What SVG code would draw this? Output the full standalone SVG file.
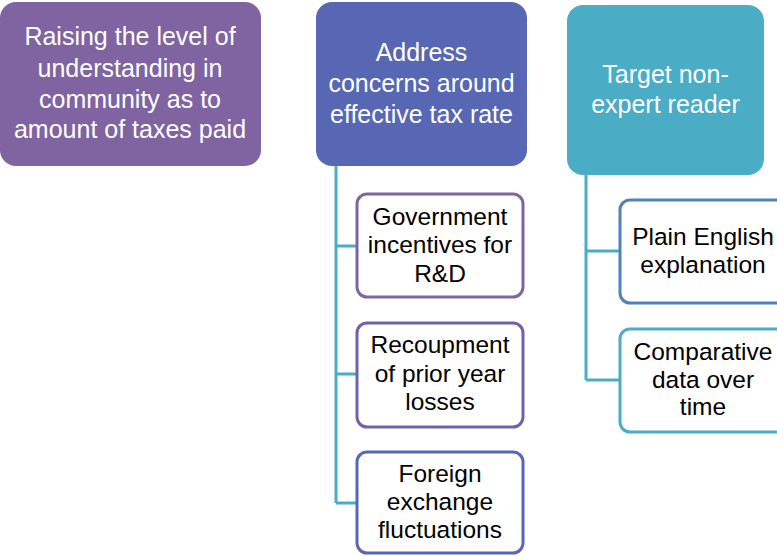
<svg xmlns="http://www.w3.org/2000/svg" width="777" height="556" viewBox="0 0 777 556">
  <style>
    .hdr { font-family: "Liberation Sans", Arial, sans-serif; font-size: 25px; fill: #ffffff; text-anchor: middle; }
    .sub { font-family: "Liberation Sans", Arial, sans-serif; font-size: 24.5px; fill: #000000; text-anchor: middle; }
    .box { fill: #ffffff; stroke-width: 3; }
    .link { fill: none; stroke: #4BACC6; stroke-width: 3; }
  </style>
  <rect width="777" height="556" fill="#ffffff"/>

  <!-- connectors -->
  <g id="connectors">
    <path class="link" d="M336,166 V503 M336,246 H357 M336,374 H357 M336,503 H357"/>
    <path class="link" d="M586,175 V380 M586,251 H620 M586,380 H620"/>
  </g>

  <!-- top-level nodes -->
  <g id="node-understanding">
    <rect x="0" y="2" width="261" height="164" rx="16" fill="#8064A2"/>
    <text class="hdr" x="130" y="45">Raising the level of</text>
    <text class="hdr" x="130" y="77">understanding in</text>
    <text class="hdr" x="130" y="108">community as to</text>
    <text class="hdr" x="130" y="138">amount of taxes paid</text>
  </g>
  <g id="node-effective-rate">
    <rect x="316" y="2" width="211" height="164" rx="16" fill="#5767B3"/>
    <text class="hdr" x="421.5" y="61">Address</text>
    <text class="hdr" x="421.5" y="92">concerns around</text>
    <text class="hdr" x="421.5" y="123">effective tax rate</text>
  </g>
  <g id="node-reader">
    <rect x="567" y="5" width="197" height="170" rx="16" fill="#4BACC6"/>
    <text class="hdr" x="665.5" y="83">Target non-</text>
    <text class="hdr" x="665.5" y="113">expert reader</text>
  </g>

  <!-- children of "Address concerns" -->
  <g id="node-rnd">
    <rect class="box" x="357" y="194" width="166" height="103" rx="10" stroke="#8064A2"/>
    <text class="sub" x="440" y="225">Government</text>
    <text class="sub" x="440" y="253">incentives for</text>
    <text class="sub" x="440" y="282">R&amp;D</text>
  </g>
  <g id="node-losses">
    <rect class="box" x="357" y="323" width="166" height="104" rx="10" stroke="#6C63AC"/>
    <text class="sub" x="440" y="353">Recoupment</text>
    <text class="sub" x="440" y="382">of prior year</text>
    <text class="sub" x="440" y="410">losses</text>
  </g>
  <g id="node-fx">
    <rect class="box" x="357" y="452" width="166" height="101" rx="10" stroke="#5767B3"/>
    <text class="sub" x="440" y="482">Foreign</text>
    <text class="sub" x="440" y="510">exchange</text>
    <text class="sub" x="440" y="538">fluctuations</text>
  </g>

  <!-- children of "Target non-expert reader" -->
  <g id="node-plain-english">
    <rect class="box" x="620" y="200" width="166" height="103" rx="10" stroke="#4F81BD"/>
    <text class="sub" x="703" y="245">Plain English</text>
    <text class="sub" x="703" y="273">explanation</text>
  </g>
  <g id="node-comparative">
    <rect class="box" x="620" y="329" width="166" height="103" rx="10" stroke="#4BACC6"/>
    <text class="sub" x="703" y="360">Comparative</text>
    <text class="sub" x="703" y="388">data over</text>
    <text class="sub" x="703" y="415">time</text>
  </g>
</svg>
